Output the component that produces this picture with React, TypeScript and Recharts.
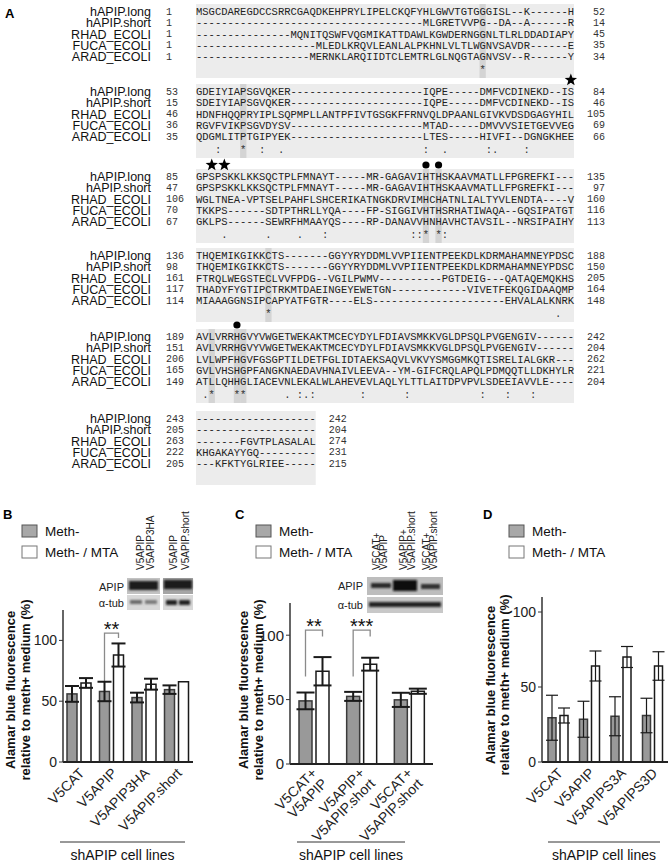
import { BarChart, Bar, XAxis, YAxis, ErrorBar } from "recharts";

const SANS = "'Liberation Sans', Arial, sans-serif";
const MONO = "'Liberation Mono', 'Courier New', monospace";

// ---------- panel A : alignment ----------
const SEQ_NAMES = ["hAPIP.long", "hAPIP.short", "RHAD_ECOLI", "FUCA_ECOLI", "ARAD_ECOLI"];
const dash = (n: number) => "-".repeat(n);

const BLOCK_SEQS = [
  [
    "MSGCDAREGDCCSRRCGAQDKEHPRYLIPELCKQFYHLGWVTGTGGGISL--K------H",
    dash(36) + "MLGRETVVPG--DA--A------R",
    dash(15) + "MQNITQSWFVQGMIKATTDAWLKGWDERNGGNLTLRLDDADIAPY",
    dash(19) + "MLEDLKRQVLEANLALPKHNLVLTLWGNVSAVDR------E",
    dash(18) + "MERNKLARQIIDTCLEMTRLGLNQGTAGNVSV--R------Y",
  ],
  [
    "GDEIYIAPSGVQKER" + dash(21) + "IQPE-----DMFVCDINEKD--IS",
    "SDEIYIAPSGVQKER" + dash(21) + "IQPE-----DMFVCDINEKD--IS",
    "HDNFHQQPRYIPLSQPMPLLANTPFIVTGSGKFFRNVQLDPAANLGIVKVDSDGAGYHIL",
    "RGVFVIKPSGVDYSV" + dash(21) + "MTAD-----DMVVVSIETGEVVEG",
    "QDGMLITPTGIPYEK" + dash(21) + "LTES-----HIVFI--DGNGKHEE",
  ],
  [
    "GPSPSKKLKKSQCTPLFMNAYT-----MR-GAGAVIHTHSKAAVMATLLFPGREFKI---",
    "GPSPSKKLKKSQCTPLFMNAYT-----MR-GAGAVIHTHSKAAVMATLLFPGREFKI---",
    "WGLTNEA-VPTSELPAHFLSHCERIKATNGKDRVIMHCHATNLIALTYVLENDTA----V",
    "TKKPS------SDTPTHRLLYQA----FP-SIGGIVHTHSRHATIWAQA--GQSIPATGT",
    "GKLPS------SEWRFHMAAYQS----RP-DANAVVHNHAVHCTAVSIL--NRSIPAIHY",
  ],
  [
    "THQEMIKGIKKCTS-------GGYYRYDDMLVVPIIENTPEEKDLKDRMAHAMNEYPDSC",
    "THQEMIKGIKKCTS-------GGYYRYDDMLVVPIIENTPEEKDLKDRMAHAMNEYPDSC",
    "FTRQLWEGSTECLVVFPDG--VGILPWMV----------PGTDEIG---QATAQEMQKHS",
    "THADYFYGTIPCTRKMTDAEINGEYEWETGN------------VIVETFEKQGIDAAQMP",
    "MIAAAGGNSIPCAPYATFGTR----ELS" + dash(21) + "EHVALALKNRK",
  ],
  [
    "AVLVRRHGVYVWGETWEKAKTMCECYDYLFDIAVSMKKVGLDPSQLPVGENGIV------",
    "AVLVRRHGVYVWGETWEKAKTMCECYDYLFDIAVSMKKVGLDPSQLPVGENGIV------",
    "LVLWPFHGVFGSGPTILDETFGLIDTAEKSAQVLVKVYSMGGMKQTISRELIALGKR---",
    "GVLVHSHGPFANGKNAEDAVHNAIVLEEVA--YM-GIFCRQLAPQLPDMQQTLLDKHYLR",
    "ATLLQHHGLIACEVNLEKALWLAHEVEVLAQLYLTTLAITDPVPVLSDEEIAVVLE----",
  ],
  [
    dash(19),
    dash(19),
    "-------FGVTPLASALAL",
    "KHGAKAYYGQ---------",
    "---KFKTYGLRIEE-----",
  ],
];
const BLOCK_START_NUMS = [
  [1, 1, 1, 1, 1],
  [53, 15, 46, 36, 35],
  [85, 47, 106, 70, 67],
  [136, 98, 161, 117, 114],
  [189, 151, 206, 165, 149],
  [243, 205, 263, 222, 205],
];
const BLOCK_END_NUMS = [
  [52, 14, 45, 35, 34],
  [84, 46, 105, 69, 66],
  [135, 97, 160, 116, 113],
  [188, 150, 205, 164, 148],
  [242, 204, 262, 221, 204],
  [242, 204, 274, 231, 215],
];
const BLOCK_CONSERVATION: [number, string][][] = [
  [[45, "*"]],
  [[3, ":"], [7, "*"], [10, ":"], [13, "."], [36, ":"], [39, "."], [46, ":"], [47, "."], [52, ":"]],
  [[4, "."], [11, "."], [16, "."], [20, ":"], [34, ":"], [35, ":"], [36, "*"], [38, "*"], [39, ":"]],
  [[11, "*"], [57, "."]],
  [[1, "."], [2, "*"], [6, "*"], [7, "*"], [14, "."], [16, ":"], [17, "."], [18, ":"], [26, ":"], [33, ":"], [45, ":"], [49, ":"], [53, ":"]],
  [],
];
const BLOCK_SHADED = [[45], [7], [36, 38], [11], [2, 6, 7], []];
const BLOCK_MARKS: [number, "star" | "dot"][][] = [
  [],
  [[59, "star"]],
  [[2, "star"], [4, "star"], [36, "dot"], [38, "dot"]],
  [],
  [[6, "dot"]],
  [],
];
const BLOCK_Y = [12, 92, 177, 256, 337, 419];

const CW = 6.3;
const SEQ_X = 196;
const ROW_H = 11.3;

function starPoints(cx: number, cy: number, ro: number, ri: number) {
  const pts: string[] = [];
  for (let i = 0; i < 10; i++) {
    const r = i % 2 === 0 ? ro : ri;
    const a = -Math.PI / 2 + (i * Math.PI) / 5;
    pts.push(`${cx + r * Math.cos(a)},${cy + r * Math.sin(a)}`);
  }
  return pts.join(" ");
}

function Alignment() {
  return (
    <g>
      <text x={5} y={13} fontFamily={SANS} fontWeight="bold" fontSize={13} dominantBaseline="central">A</text>
      {BLOCK_SEQS.map((rows, b) => {
        const y0 = BLOCK_Y[b];
        const w = rows[0].length * CW;
        return (
          <g key={b}>
            <rect x={SEQ_X} y={y0 - 8} width={w} height={74} fill="#ececec" />
            {BLOCK_SHADED[b].map((c) => (
              <rect key={c} x={SEQ_X + c * CW} y={y0 - 8} width={CW} height={74} fill="#d4d4d4" />
            ))}
            {rows.map((seq, r) => {
              const y = y0 + r * ROW_H;
              return (
                <g key={r}>
                  <text x={151} y={y} textAnchor="end" fontFamily={SANS} fontSize={12.5} fill="#111" dominantBaseline="central">
                    {SEQ_NAMES[r]}
                  </text>
                  <text x={166} y={y} fontFamily={MONO} fontSize={10} fill="#333" dominantBaseline="central">
                    {BLOCK_START_NUMS[b][r]}
                  </text>
                  <text x={SEQ_X} y={y} fontFamily={MONO} fontSize={10.5} fill="#222" dominantBaseline="central">
                    {seq}
                  </text>
                  <text x={SEQ_X + w + 31} y={y} textAnchor="end" fontFamily={MONO} fontSize={10} fill="#333" dominantBaseline="central">
                    {BLOCK_END_NUMS[b][r]}
                  </text>
                </g>
              );
            })}
            {BLOCK_CONSERVATION[b].map(([c, ch]) => (
              <text key={c} x={SEQ_X + (c + 0.5) * CW} y={y0 + 58} textAnchor="middle" fontFamily={MONO} fontSize={10.5} fill="#333" dominantBaseline="central">
                {ch}
              </text>
            ))}
            {BLOCK_MARKS[b].map(([c, kind]) => {
              const cx = SEQ_X + (c + 0.5) * CW;
              return kind === "star" ? (
                <polygon key={c} points={starPoints(cx, y0 - 12, 6.5, 2.7)} fill="#000" />
              ) : (
                <circle key={c} cx={cx} cy={y0 - 12} r={3.6} fill="#000" />
              );
            })}
          </g>
        );
      })}
    </g>
  );
}

// ---------- panels B, C, D : Alamar blue ----------
const B_CATEGORIES = ["V5CAT", "V5APIP", "V5APIP3HA", "V5APIP.short"];
const B_METH = [56, 58, 53, 59.5];
const B_METH_ERR = [6.5, 8, 4, 3.5];
const B_MTA = [65, 88, 64, 66];
const B_MTA_ERR = [4, 9.5, 4.5, 0];
const B_SIG = [{ category: "V5APIP", from: 66, top: 106, to: 102, label: "**" }];

const C_CATEGORIES = ["V5CAT+\nV5APIP", "V5APIP+\nV5APIP.short", "V5CAT+\nV5APIP.short"];
const C_METH = [49, 52.5, 49.8];
const C_METH_ERR = [6.5, 3.5, 5.5];
const C_MTA = [72, 77.5, 56.5];
const C_MTA_ERR = [11, 5, 2];
const C_SIG = [
  { category: "V5CAT+\nV5APIP", from: 68, top: 104, to: 99, label: "**" },
  { category: "V5APIP+\nV5APIP.short", from: 68, top: 104, to: 99, label: "***" },
];

const D_CATEGORIES = ["V5CAT", "V5APIP", "V5APIPS3A", "V5APIPS3D"];
const D_METH = [29.5, 28.5, 30.5, 31];
const D_METH_ERR = [15, 12, 13, 11.5];
const D_MTA = [31, 64, 70, 64];
const D_MTA_ERR = [5, 10, 7, 9.5];

type Sig = { category: string; from: number; top: number; to: number; label: string };

function makeRows(cats: string[], meth: number[], methErr: number[], mta: number[], mtaErr: number[], sigs: Sig[]) {
  return cats.map((name, i) => ({
    name,
    meth: meth[i],
    methErr: methErr[i],
    mta: mta[i],
    mtaErr: mtaErr[i],
    sig: sigs.find((s) => s.category === name),
  }));
}

function methShape(gap: number, fill: string, stroke: string, sigSize: number) {
  return (p: any) => {
    const { x, y, width, height, payload } = p;
    const sig: Sig | undefined = payload?.sig;
    let bracket = null;
    if (sig && payload.meth) {
      const unit = height / payload.meth;
      const base = y + height;
      const lx = x + width / 2;
      const rx = x + width + gap + width / 2;
      const yf = base - sig.from * unit;
      const yt = base - sig.top * unit;
      const yr = base - sig.to * unit;
      bracket = (
        <g>
          <path d={`M${lx},${yf}L${lx},${yt}L${rx},${yt}L${rx},${yr}`} fill="none" stroke="#8a8a8a" strokeWidth={1.3} />
          <text x={(lx + rx) / 2} y={yt + 3} textAnchor="middle" fontFamily={SANS} fontSize={sigSize} fill="#111">
            {sig.label}
          </text>
        </g>
      );
    }
    return (
      <g>
        <rect x={x} y={y} width={width} height={height} fill={fill} stroke={stroke} strokeWidth={1.5} />
        {bracket}
      </g>
    );
  };
}

function XTick(props: any) {
  const { x, y, payload, dx, dy, fontSize } = props;
  const lines = String(payload.value).split("\n");
  return (
    <g transform={`translate(${x + dx},${y + dy}) rotate(-45)`}>
      <text textAnchor="end" fontFamily={SANS} fontSize={fontSize} fill="#222">
        {lines.map((l, i) => (
          <tspan key={i} x={0} dy={i === 0 ? 0 : fontSize * 1.05}>
            {l}
          </tspan>
        ))}
      </text>
    </g>
  );
}

interface ChartProps {
  rows: any[];
  left: number;
  top: number;
  width: number;
  margin: { top: number; right: number; bottom: number; left: number };
  yWidth: number;
  domainMax: number;
  barSize: number;
  barGap: number;
  tickFont: number;
  labelFont: number;
  labelDx: number;
  labelDy: number;
  errWidth: number;
  errCap: number;
  sigSize: number;
}

function AlamarChart(p: ChartProps) {
  return (
    <div style={{ position: "absolute", left: p.left, top: p.top }}>
      <BarChart width={p.width} height={362} data={p.rows} margin={p.margin} barSize={p.barSize} barGap={p.barGap}>
        <XAxis
          dataKey="name"
          interval={0}
          height={80}
          tickLine={false}
          tickSize={0}
          tickMargin={0}
          axisLine={{ stroke: "#222", strokeWidth: 2 }}
          tick={<XTick dx={p.labelDx} dy={p.labelDy} fontSize={p.labelFont} />}
        />
        <YAxis
          width={p.yWidth}
          domain={[0, p.domainMax]}
          ticks={[0, 50, 100]}
          tickSize={4}
          tickMargin={2}
          axisLine={{ stroke: "#333", strokeWidth: 1.5 }}
          tickLine={{ stroke: "#333" }}
          tick={{ fontSize: p.tickFont, fill: "#222", fontFamily: SANS }}
        />
        <Bar dataKey="meth" isAnimationActive={false} shape={methShape(p.barGap, "#999999", "#3a3a3a", p.sigSize)}>
          <ErrorBar dataKey="methErr" width={p.errCap} strokeWidth={p.errWidth} stroke="#1a1a1a" isAnimationActive={false} />
        </Bar>
        <Bar dataKey="mta" isAnimationActive={false} fill="#ffffff" stroke="#1a1a1a" strokeWidth={1.5}>
          <ErrorBar dataKey="mtaErr" width={p.errCap} strokeWidth={p.errWidth} stroke="#1a1a1a" isAnimationActive={false} />
        </Bar>
      </BarChart>
    </div>
  );
}

function Legend({ x }: { x: number }) {
  return (
    <g fontFamily={SANS} fontSize={13.5} fill="#111">
      <rect x={x} y={525} width={15} height={12} fill="#a8a8a8" stroke="#555" />
      <text x={x + 23} y={531} dominantBaseline="central">Meth-</text>
      <rect x={x} y={546} width={15} height={12} fill="#fff" stroke="#777" />
      <text x={x + 23} y={552} dominantBaseline="central">Meth- / MTA</text>
    </g>
  );
}

function YLabel({ x1, x2, cy }: { x1: number; x2: number; cy: number }) {
  return (
    <g fontFamily={SANS} fontWeight="bold" fontSize={13} fill="#111" textAnchor="middle">
      <text transform={`translate(${x1},${cy}) rotate(-90)`} dominantBaseline="central">Alamar blue fluorescence</text>
      <text transform={`translate(${x2},${cy}) rotate(-90)`} dominantBaseline="central">relative to meth+ medium (%)</text>
    </g>
  );
}

function XTitle({ x1, x2 }: { x1: number; x2: number }) {
  return (
    <g>
      <line x1={x1} x2={x2} y1={842} y2={842} stroke="#333" strokeWidth={1} />
      <text x={(x1 + x2) / 2} y={855} textAnchor="middle" dominantBaseline="central" fontFamily={SANS} fontSize={14} fill="#111">
        shAPIP cell lines
      </text>
    </g>
  );
}

function BlotLabels({ xs, lines }: { xs: number[]; lines: string[] }) {
  return (
    <g fontFamily={SANS} fontSize={10} fill="#222">
      {xs.map((x, i) => (
        <text key={i} transform={`translate(${x},570) rotate(-90)`} dominantBaseline="central">
          {lines[i]}
        </text>
      ))}
    </g>
  );
}

function Overlay() {
  return (
    <svg width={672} height={862} style={{ position: "absolute", left: 0, top: 0, pointerEvents: "none" }}>
      <defs>
        <filter id="blur" x="-20%" y="-50%" width="140%" height="200%">
          <feGaussianBlur stdDeviation="1.1" />
        </filter>
      </defs>
      <Alignment />

      <g fontFamily={SANS} fontWeight="bold" fontSize={13} fill="#000">
        <text x={3} y={514} dominantBaseline="central">B</text>
        <text x={235} y={514} dominantBaseline="central">C</text>
        <text x={483} y={514} dominantBaseline="central">D</text>
      </g>
      <Legend x={22} />
      <Legend x={256} />
      <Legend x={509} />

      <BlotLabels xs={[140, 150, 173, 185]} lines={["V5APIP", "V5APIP3HA", "V5APIP", "V5APIP.short"]} />
      <BlotLabels
        xs={[376, 383.5, 403, 411, 426, 433.5]}
        lines={["V5CAT+", "V5APIP", "V5APIP+", "V5APIP.short", "V5CAT+", "V5APIP.short"]}
      />

      {/* blots */}
      <g fontFamily={SANS} fontSize={11} fill="#222" textAnchor="end">
        <text x={124} y={587} dominantBaseline="central">APIP</text>
        <text x={124} y={603} dominantBaseline="central">α-tub</text>
        <text x={363} y={586} dominantBaseline="central">APIP</text>
        <text x={363} y={605} dominantBaseline="central">α-tub</text>
      </g>
      <rect x={127} y={578} width={33} height={16} fill="#c2c2c2" />
      <rect x={129} y={581} width={29} height={9} fill="#1e1e1e" filter="url(#blur)" />
      <rect x={127} y={595} width={33} height={15} fill="#d8d8d8" />
      <rect x={130} y={600} width={12} height={4} fill="#6a6a6a" filter="url(#blur)" />
      <rect x={145} y={600} width={12} height={4} fill="#7a7a7a" filter="url(#blur)" />
      <rect x={163} y={578} width={30} height={16} fill="#a5a5a5" />
      <rect x={164} y={580} width={28} height={9} fill="#1a1a1a" filter="url(#blur)" />
      <rect x={163} y={595} width={30} height={15} fill="#d8d8d8" />
      <rect x={166} y={600} width={11} height={5} fill="#222" filter="url(#blur)" />
      <rect x={179} y={600} width={11} height={5} fill="#222" filter="url(#blur)" />

      <rect x={367} y={577} width={76} height={18} fill="#bdbdbd" />
      <rect x={371} y={583} width={20} height={5} fill="#2a2a2a" filter="url(#blur)" />
      <rect x={393} y={580} width={24} height={11} fill="#111" filter="url(#blur)" />
      <rect x={421} y={584} width={19} height={5} fill="#333" filter="url(#blur)" />
      <rect x={367} y={597} width={76} height={16} fill="#c8c8c8" />
      <rect x={369} y={602} width={72} height={5} fill="#222" filter="url(#blur)" />

      <YLabel x1={10} x2={25} cy={690} />
      <YLabel x1={243} x2={258} cy={690} />
      <YLabel x1={490} x2={504} cy={685} />

      <XTitle x1={60} x2={185} />
      <XTitle x1={297} x2={405} />
      <XTitle x1={548} x2={660} />
    </svg>
  );
}

export default function App() {
  const bRows = makeRows(B_CATEGORIES, B_METH, B_METH_ERR, B_MTA, B_MTA_ERR, B_SIG);
  const cRows = makeRows(C_CATEGORIES, C_METH, C_METH_ERR, C_MTA, C_MTA_ERR, C_SIG);
  const dRows = makeRows(D_CATEGORIES, D_METH, D_METH_ERR, D_MTA, D_MTA_ERR, []);
  return (
    <div style={{ position: "absolute", left: 0, top: 0, width: 672, height: 862, background: "#fff", overflow: "hidden" }}>
      <AlamarChart
        rows={bRows}
        left={0}
        top={500}
        width={230}
        margin={{ top: 110, right: 37, bottom: 20, left: 3 }}
        yWidth={60}
        domainMax={125}
        barSize={10}
        barGap={4}
        tickFont={14}
        labelFont={14}
        labelDx={6}
        labelDy={12}
        errWidth={2}
        errCap={7}
        sigSize={20}
      />
      <AlamarChart
        rows={cRows}
        left={225}
        top={500}
        width={230}
        margin={{ top: 103, right: 22, bottom: 18, left: 3 }}
        yWidth={62}
        domainMax={125}
        barSize={13}
        barGap={4}
        tickFont={15}
        labelFont={14}
        labelDx={4}
        labelDy={10}
        errWidth={2}
        errCap={9}
        sigSize={20}
      />
      <AlamarChart
        rows={dRows}
        left={450}
        top={500}
        width={222}
        margin={{ top: 97, right: 4, bottom: 20, left: 3 }}
        yWidth={89}
        domainMax={110}
        barSize={8}
        barGap={4}
        tickFont={14}
        labelFont={14}
        labelDx={6}
        labelDy={12}
        errWidth={1.2}
        errCap={6}
        sigSize={20}
      />
      <Overlay />
    </div>
  );
}
